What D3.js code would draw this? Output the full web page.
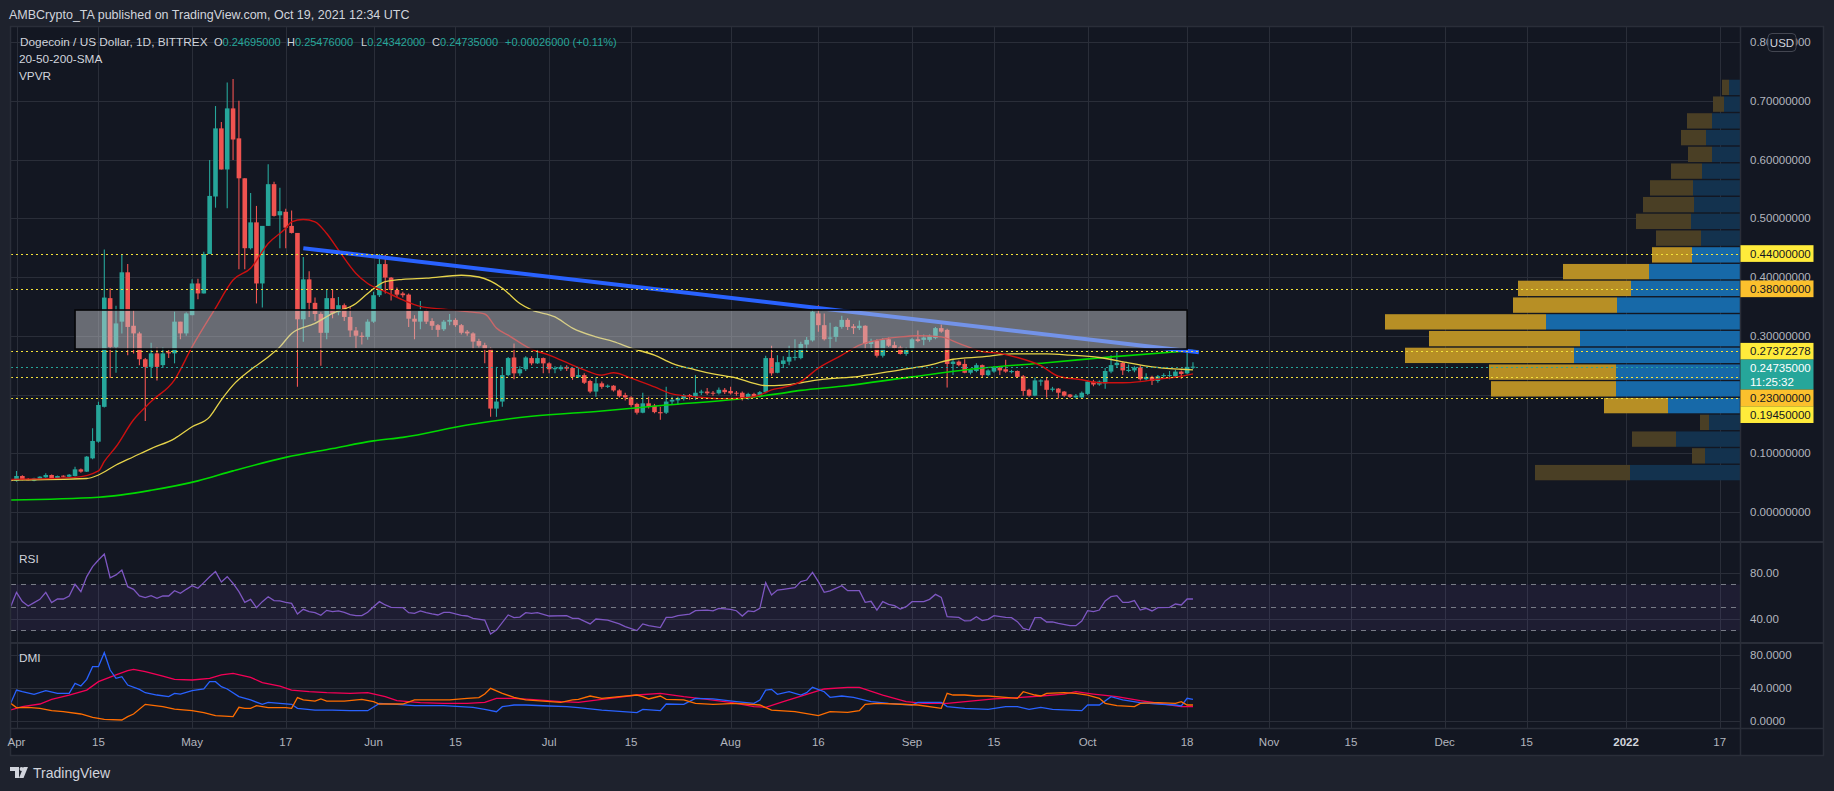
<!DOCTYPE html>
<html><head><meta charset="utf-8">
<script src="https://cdn.jsdelivr.net/npm/d3@7"></script>
<style>
html,body{margin:0;padding:0;background:#1e222d;}
svg{display:block;font-family:"Liberation Sans",Arial,sans-serif;}
</style></head><body>
<svg id="c" width="1834" height="791"></svg>
<script>
// ---------------- DATA ----------------
const candleStart = "2021-03-31";           // first daily candle
// daily candles [open, high, low, close]
const candles = [
[.0545,.0556,.0510,.0530],[.0530,.0698,.0516,.0613],[.0613,.0625,.0540,.0545],[.0557,.0580,.0540,.0545],
[.0533,.0585,.0525,.0573],[.0556,.0610,.0550,.0601],[.0590,.0658,.0585,.0630],[.0630,.0640,.0555,.0562],
[.0573,.0620,.0565,.0613],[.0618,.0625,.0590,.0601],[.0601,.0645,.0595,.0635],[.0613,.0772,.0605,.0726],
[.0726,.0740,.0670,.0687],[.0687,.0953,.0680,.0942],[.0913,.1424,.0900,.1209],[.1197,.1878,.1180,.1821],
[.179,.447,.178,.365],[.364,.381,.228,.281],[.281,.351,.237,.321],[.324,.439,.304,.408],
[.408,.422,.267,.315],[.317,.344,.270,.304],[.304,.307,.250,.260],[.260,.262,.155,.247],
[.247,.288,.228,.270],[.270,.280,.224,.247],[.250,.280,.245,.270],[.272,.276,.262,.270],
[.270,.341,.253,.324],[.324,.324,.294,.304],[.304,.340,.300,.338],[.335,.396,.335,.389],
[.389,.397,.362,.372],[.372,.443,.372,.439],[.439,.599,.439,.538],[.537,.691,.518,.653],
[.653,.664,.583,.583],[.583,.731,.517,.687],[.687,.737,.599,.634],[.636,.700,.413,.568],
[.568,.568,.413,.449],[.449,.543,.447,.493],[.493,.521,.355,.389],[.389,.487,.348,.487],
[.487,.592,.487,.558],[.558,.562,.503,.504],[.505,.552,.449,.512],[.511,.516,.449,.484],
[.487,.513,.474,.475],[.475,.475,.213,.328],[.328,.434,.290,.396],[.396,.410,.332,.356],
[.356,.365,.325,.337],[.337,.340,.249,.305],[.305,.379,.294,.364],[.364,.379,.330,.338],
[.340,.366,.335,.352],[.352,.355,.325,.332],[.332,.349,.298,.309],[.309,.315,.279,.300],
[.300,.306,.285,.298],[.298,.328,.293,.324],[.324,.375,.322,.369],[.369,.439,.366,.422],
[.422,.438,.372,.399],[.399,.400,.360,.378],[.378,.382,.365,.370],[.372,.375,.365,.369],
[.370,.372,.315,.329],[.329,.335,.294,.324],[.324,.359,.311,.342],[.342,.345,.320,.324],
[.325,.330,.310,.317],[.318,.320,.298,.310],[.311,.327,.308,.324],[.324,.337,.318,.327],
[.327,.330,.315,.318],[.318,.320,.302,.305],[.307,.310,.300,.304],[.304,.306,.277,.290],
[.291,.295,.280,.283],[.284,.288,.253,.277],[.278,.280,.162,.176],[.176,.247,.162,.188],
[.188,.247,.179,.233],[.233,.264,.231,.262],[.263,.287,.226,.236],[.236,.248,.232,.243],
[.243,.265,.240,.263],[.262,.265,.250,.253],[.253,.276,.252,.262],[.262,.263,.236,.253],
[.253,.255,.236,.243],[.243,.248,.236,.245],[.243,.250,.240,.247],[.247,.250,.240,.244],
[.245,.247,.225,.230],[.230,.245,.228,.233],[.233,.236,.218,.220],[.223,.225,.202,.205],
[.205,.229,.196,.219],[.219,.222,.210,.213],[.213,.217,.211,.215],[.215,.216,.205,.207],
[.207,.209,.195,.197],[.199,.203,.190,.195],[.195,.197,.179,.182],[.184,.186,.166,.169],
[.169,.203,.168,.185],[.185,.196,.176,.179],[.181,.184,.168,.170],[.170,.179,.157,.168],
[.169,.213,.167,.188],[.188,.196,.182,.191],[.190,.196,.182,.194],[.193,.201,.190,.199],
[.199,.201,.191,.197],[.197,.233,.191,.203],[.203,.208,.199,.205],[.205,.211,.199,.202],
[.203,.206,.198,.202],[.202,.212,.200,.208],[.208,.211,.201,.204],[.206,.213,.200,.202],
[.203,.206,.198,.202],[.203,.205,.190,.193],[.193,.203,.191,.201],[.201,.203,.194,.196],
[.197,.206,.195,.204],[.204,.266,.202,.262],[.262,.283,.232,.236],[.237,.267,.236,.255],
[.252,.265,.245,.258],[.256,.283,.250,.264],[.264,.294,.258,.264],[.262,.290,.260,.286],
[.285,.298,.274,.293],[.292,.350,.290,.341],[.338,.352,.307,.318],[.318,.338,.292,.294],
[.295,.322,.279,.297],[.298,.316,.290,.315],[.315,.334,.312,.327],[.327,.330,.310,.315],
[.316,.320,.303,.313],[.313,.326,.310,.317],[.317,.318,.276,.286],[.286,.295,.276,.291],
[.291,.294,.263,.266],[.266,.296,.263,.293],[.294,.297,.281,.283],[.284,.290,.276,.279],
[.280,.283,.268,.269],[.269,.280,.266,.277],[.277,.296,.275,.294],[.294,.309,.289,.291],
[.293,.302,.284,.297],[.293,.302,.290,.300],[.296,.315,.294,.313],[.313,.319,.305,.307],
[.310,.312,.212,.252],[.252,.259,.233,.256],[.256,.258,.248,.250],[.252,.260,.236,.237],
[.237,.244,.234,.242],[.240,.253,.238,.250],[.250,.251,.228,.233],[.233,.243,.231,.241],
[.239,.248,.237,.246],[.246,.248,.233,.241],[.243,.259,.237,.239],[.238,.242,.236,.240],
[.240,.241,.228,.230],[.231,.233,.198,.206],[.208,.210,.196,.198],[.198,.229,.197,.224],
[.222,.226,.215,.224],[.224,.228,.195,.208],[.208,.213,.205,.210],[.210,.211,.193,.203],
[.205,.206,.196,.198],[.200,.201,.194,.196],[.195,.201,.193,.198],[.195,.205,.193,.203],
[.201,.224,.199,.222],[.222,.225,.214,.217],[.217,.224,.215,.222],[.219,.245,.210,.240],
[.239,.267,.236,.250],[.250,.272,.247,.254],[.254,.256,.233,.241],[.240,.251,.238,.242],
[.241,.248,.238,.246],[.246,.250,.224,.226],[.226,.236,.224,.230],[.230,.232,.216,.223],
[.223,.233,.220,.231],[.232,.236,.229,.233],[.233,.240,.226,.233],[.231,.242,.229,.239],
[.239,.241,.227,.235],[.236,.273,.234,.247],[.24695,.25476,.24342,.24735]
];

// indicator series: [day offset from 2021-04-01, value]
const indexStart = "2021-04-01";
const sma20 = [[-1,.0556],[10,.059],[14,.070],[15,.086],[17,.111],[20,.157],[23,.188],[27,.225],[30,.281],[34,.347],[37,.395],[40,.415],[43,.457],[46,.483],[47,.494],[49,.498],[51,.494],[53,.474],[55,.446],[58,.406],[60,.389],[63,.375],[66,.361],[69,.350],[73,.345],[77,.341],[80,.337],[82,.313],[84,.301],[88,.277],[91,.267],[95,.250],[97,.242],[100,.233],[102,.237],[105,.228],[109,.213],[112,.201],[116,.196],[120,.193],[125,.195],[127,.199],[129,.208],[131,.212],[134,.222],[137,.245],[141,.267],[144,.284],[148,.294],[151,.298],[154,.300],[158,.298],[161,.287],[165,.273],[168,.270],[171,.263],[175,.249],[178,.231],[182,.225],[185,.220],[189,.220],[192,.222],[195,.226],[199,.231],[201,.235]];
const sma50 = [[-1,.0545],[12,.057],[14,.063],[17,.080],[20,.094],[23,.108],[27,.125],[30,.145],[33,.162],[35,.191],[37,.216],[40,.242],[43,.264],[45,.281],[47,.304],[51,.321],[54,.338],[58,.355],[60,.372],[63,.392],[66,.396],[70,.398],[76,.403],[79,.400],[83,.381],[86,.355],[88,.344],[92,.332],[95,.313],[99,.298],[102,.290],[105,.279],[109,.267],[112,.253],[116,.242],[119,.235],[123,.228],[126,.219],[128,.215],[131,.216],[134,.220],[137,.225],[144,.231],[151,.242],[156,.250],[160,.260],[165,.264],[170,.269],[176,.269],[180,.267],[185,.263],[190,.254],[194,.247],[199,.243],[201,.242]];
const sma200 = [[-1,.0204],[14,.025],[23,.037],[31,.053],[37,.070],[46,.093],[54,.108],[61,.121],[66,.127],[77,.148],[88,.163],[100,.172],[111,.182],[123,.192],[130,.201],[134,.207],[141,.214],[153,.230],[165,.245],[176,.254],[187,.264],[201,.275]];

const rsi = [[-1,50.7],[0,63.2],[1,55.1],[2,51.3],[3,54.2],[4,57.1],[5,63.2],[6,54.2],[7,57.4],[8,57.4],[9,60],[10,70.2],[11,63.8],[12,76.9],[13,85.6],[14,91.3],[15,96.5],[16,75.9],[17,78.3],[18,82.6],[19,68.1],[20,65.8],[21,60],[22,58.6],[23,60.3],[24,58],[25,60],[26,60],[27,64.6],[28,62.3],[29,65.8],[30,68.9],[31,66.7],[32,71.6],[33,76.8],[34,81.2],[35,72.2],[36,76.8],[37,71],[38,63.8],[39,54.5],[40,57.1],[41,49.9],[42,55.1],[43,59.4],[44,56],[45,55.7],[46,54.5],[47,53.6],[48,44.4],[49,48.4],[50,46.4],[51,45.5],[52,43.2],[53,47.5],[54,46.4],[55,47],[56,45.8],[57,43.8],[58,42.9],[59,42.9],[60,45.8],[61,50.7],[62,55.1],[63,52.2],[64,50.1],[66,49.9],[67,45.5],[68,44.9],[69,47],[70,45.5],[71,44.4],[72,43.5],[73,45.8],[74,45.8],[75,44.4],[76,43.2],[77,42.6],[78,40.6],[80,39.1],[81,27],[82,30.4],[84,43.5],[85,41.2],[86,41.7],[87,45.5],[88,44.9],[89,45.5],[91,42.6],[94,42.9],[95,40.6],[96,40.6],[98,35.7],[99,40],[101,39.1],[103,35.7],[104,33.4],[106,29.9],[107,35.7],[108,34.2],[110,32.5],[111,41.4],[112,41.4],[113,42.9],[115,44.3],[116,47.2],[118,47.8],[119,47],[120,49.3],[122,48.4],[123,47.2],[124,42.6],[125,47],[126,46.4],[127,49.3],[128,71.6],[129,60.9],[130,65.2],[131,65.8],[133,67.2],[134,72.5],[135,73.9],[136,80.6],[137,72.5],[138,63.2],[139,64.4],[141,69],[142,64.6],[144,64.6],[145,54.5],[146,55.4],[147,47.8],[148,55.1],[149,52.8],[150,51.6],[151,48.7],[152,50.7],[153,55.1],[155,55.1],[156,57.1],[157,61.4],[158,58.8],[159,42],[161,41.4],[162,38.3],[163,38.6],[164,42],[165,38.6],[166,39.7],[167,42.9],[169,41.4],[170,41.2],[171,37.7],[172,31.9],[173,30.4],[174,41.2],[175,41.2],[176,37.4],[177,37.4],[178,36.2],[180,34.2],[181,34.2],[182,38.3],[183,47.2],[184,46.4],[185,47.8],[186,55.7],[187,59.4],[188,60.3],[189,54.5],[190,54.5],[191,56],[192,47.8],[193,49.3],[194,47],[195,49.9],[197,50.1],[198,53],[199,52.2],[200,57.4],[201,57.4]];

const plusDI = [[-1,21.4],[0,37.5],[1,35.5],[3,32.3],[5,36.7],[7,33.5],[9,33.5],[10,45.6],[11,42.4],[12,50.5],[13,65.9],[14,65.9],[15,82.8],[16,61.8],[17,51.7],[18,53.7],[19,43.6],[21,38.4],[22,34.3],[24,31.5],[26,29.5],[27,33.5],[28,32.7],[30,36.7],[32,38.8],[33,47.7],[34,47.7],[35,41.6],[36,38.8],[38,29.5],[40,25.5],[42,20.2],[43,22.6],[45,21.4],[47,20.2],[48,15.4],[51,13.3],[54,13.3],[57,12.5],[60,12.5],[62,21.4],[65,20.2],[68,18.6],[73,18.6],[78,16.6],[80,14.1],[82,11.3],[83,17.4],[85,19.4],[87,19.4],[91,18.2],[94,17.4],[96,16.2],[100,13.3],[106,10.1],[107,14.1],[110,12.5],[111,20.6],[114,20.2],[116,27.5],[119,26.7],[123,23.4],[126,21.4],[127,25.5],[128,37.5],[129,38.4],[130,32.3],[132,35.5],[134,31.5],[135,34.3],[136,40.8],[138,35.5],[139,28.7],[141,30.3],[143,28.7],[146,23.4],[149,21.4],[153,19.4],[154,22.6],[158,22.6],[159,17.4],[162,15.4],[166,14.1],[169,17.4],[171,17.4],[173,14.1],[175,16.6],[177,14.1],[182,12.5],[183,19.4],[185,19.4],[187,29.5],[189,25.5],[192,22.2],[195,20.6],[198,19.4],[199,18.2],[200,27.5],[201,26.3]];
const minusDI = [[-1,21.4],[0,16.2],[2,16.6],[4,15.4],[6,12.5],[8,11.3],[11,8.5],[13,4.4],[15,2],[18,1.2],[19,5.3],[20,8.5],[22,20.2],[25,17.4],[27,14.5],[30,12.5],[32,10.1],[34,6.5],[37,5.3],[38,16.6],[39,15.4],[40,15.4],[41,18.6],[43,16.2],[46,16.2],[47,15.4],[48,28.3],[49,25.5],[51,24.2],[52,26.7],[53,24.2],[56,24.2],[59,26.3],[61,23.4],[62,20.6],[66,20.6],[68,25.5],[71,25.5],[74,25.5],[77,27.5],[79,28.3],[80,32.7],[81,39.6],[83,33.5],[85,28.7],[87,25.5],[90,24.2],[93,22.6],[95,25.5],[96,26.3],[98,30.3],[100,27.5],[103,29.5],[106,31.5],[107,29.5],[108,26.7],[110,30.3],[111,26.3],[114,25.5],[116,21.4],[119,20.2],[123,21.4],[127,19.4],[129,13.3],[133,11.3],[137,6.5],[139,11.3],[142,10.5],[144,12.5],[145,20.2],[147,21.4],[150,20.6],[154,19.4],[158,15.4],[159,33.5],[160,31.5],[162,31.5],[164,30.3],[166,30.3],[169,28.7],[171,27.5],[172,35.5],[174,31.5],[175,30.3],[176,33.5],[179,34.3],[181,33.5],[183,31.5],[185,27.5],[186,21.4],[188,18.6],[191,17.4],[192,21.4],[195,22.2],[198,21.4],[199,23.4],[200,19.4],[201,19.4]];
const adx = [[-1,13.3],[1,17.4],[4,20.6],[6,26.3],[9,31.5],[12,37.5],[14,47.7],[17,55.8],[19,61],[20,62.6],[22,59.8],[25,54.5],[27,50.5],[30,49.7],[33,51.7],[35,55.8],[37,57.8],[40,52.9],[42,46.5],[45,42.4],[47,37.5],[50,35.5],[53,34.3],[57,33.5],[60,34.3],[63,29.5],[65,24.6],[69,22.2],[73,21.4],[77,21.4],[80,22.6],[82,27.5],[85,27.5],[89,25.5],[93,23.4],[96,22.6],[100,26.3],[106,31.5],[110,33.5],[114,29.5],[118,26.3],[122,22.6],[126,17.4],[128,16.6],[131,23.4],[135,32.3],[138,38.8],[142,40.8],[144,40.8],[148,31.5],[152,23.4],[155,21.4],[159,21.4],[163,24.2],[167,26.7],[171,28.3],[175,30.3],[179,32.7],[181,35.5],[184,32.7],[188,29.5],[192,24.6],[196,20.6],[199,17.4],[201,17.4]];

// drawings
const trendLine = [[49,.449],[202,.272]];
const zoneBox = {from:10, to:200, top:.3438, bottom:.2774};
const levels = [
  {v:.44, label:"0.44000000", fill:"#ffeb3b"},
  {v:.38, label:"0.38000000", fill:"#fbc02d"},
  {v:.27372278, label:"0.27372278", fill:"#ffeb3b"},
  {v:.23, label:"0.23000000", fill:"#fbc02d"},
  {v:.1945, label:"0.19450000", fill:"#ffeb3b"}
];
const lastPrice = {v:.24735, label:"0.24735000", timer:"11:25:32"};

// volume profile (top row -> bottom row)
const vpvrRange = [0.0528, 0.737];
const vpvrDown = [7,11,25,25,24,31,43,51,55,45,40,86,113,104,161,151,169,127,125,64,9,44,13,95];
const vpvrUp   = [11,16,28,34,28,38,47,46,49,39,48,91,109,123,194,160,166,124,124,72,31,64,35,110];
const vpvrValueArea = [0,0,0,0,0,0,0,0,0,0,1,1,1,1,1,1,1,1,1,1,0,0,0,0];

// axes
const priceTicks = [0,.1,.2,.3,.4,.5,.6,.7,.8];
const rsiTicks = [80,40];
const dmiTicks = [80,40,0];
const timeTicks = [["2021-04-01","Apr"],["2021-04-15","15"],["2021-05-01","May"],["2021-05-17","17"],["2021-06-01","Jun"],["2021-06-15","15"],["2021-07-01","Jul"],["2021-07-15","15"],["2021-08-01","Aug"],["2021-08-16","16"],["2021-09-01","Sep"],["2021-09-15","15"],["2021-10-01","Oct"],["2021-10-18","18"],["2021-11-01","Nov"],["2021-11-15","15"],["2021-12-01","Dec"],["2021-12-15","15"],["2022-01-01","2022"],["2022-01-17","17"]];

// ---------------- DRAW ----------------
const svg = d3.select("#c");
const L = 11, R = 1740, AX = 1823;
const main = {t:27, b:541}, rsiP = {t:543, b:643}, dmiP = {t:643, b:728}, axisB = 755;
const BG = "#131722", GRID = "#2a2e39", TXT = "#b2b5be";
const parse = d3.utcParse("%Y-%m-%d");
const x = d3.scaleUtc().domain([parse("2021-04-01"), parse("2022-01-01")]).range([16.5, 1626.1]);
const yP = d3.scaleLinear().domain([0, 0.8]).range([512, 42]);
const yR = d3.scaleLinear().domain([40, 80]).range([619, 573]);
const yD = d3.scaleLinear().domain([0, 80]).range([721, 655]);
const base = parse(indexStart);
const dx = d => x(d3.utcDay.offset(base, d));

svg.append("rect").attr("width",1834).attr("height",791).attr("fill","#1e222d");
svg.append("rect").attr("x",L).attr("y",main.t).attr("width",AX-L).attr("height",axisB-main.t).attr("fill",BG);

const defs = svg.append("defs");
[["cm",main],["cr",rsiP],["cd",dmiP]].forEach(([id,p])=>{
  defs.append("clipPath").attr("id",id).append("rect").attr("x",L).attr("y",p.t).attr("width",R-L).attr("height",p.b-p.t);
});

// vertical grid
const g = svg.append("g");
timeTicks.forEach(([d])=>{
  const xx = Math.round(x(parse(d)))+0.5;
  g.append("line").attr("x1",xx).attr("x2",xx).attr("y1",main.t).attr("y2",dmiP.b).attr("stroke",GRID).attr("stroke-width",1);
});
// horizontal grid
priceTicks.forEach(v=>{ const yy=Math.round(yP(v))+0.5; g.append("line").attr("x1",L).attr("x2",R).attr("y1",yy).attr("y2",yy).attr("stroke",GRID);});
rsiTicks.forEach(v=>{ const yy=Math.round(yR(v))+0.5; g.append("line").attr("x1",L).attr("x2",R).attr("y1",yy).attr("y2",yy).attr("stroke",GRID);});
dmiTicks.forEach(v=>{ const yy=Math.round(yD(v))+0.5; g.append("line").attr("x1",L).attr("x2",R).attr("y1",yy).attr("y2",yy).attr("stroke",GRID);});

// ---- main pane
const gm = svg.append("g").attr("clip-path","url(#cm)");

// VPVR
const nRows = vpvrUp.length;
const rowY = d3.scaleLinear().domain([0, nRows]).range([yP(vpvrRange[1]), yP(vpvrRange[0])]);
const totals = vpvrUp.map((u,i)=>u+vpvrDown[i]);
const vw = d3.scaleLinear().domain([0, d3.max(totals)]).range([0, 355]);
vpvrUp.forEach((u,i)=>{
  const y0 = rowY(i)+0.7, h = rowY(i+1)-rowY(i)-1.4;
  const va = vpvrValueArea[i];
  const wu = vw(u), wd = vw(vpvrDown[i]);
  gm.append("rect").attr("x",R-wu).attr("y",y0).attr("width",wu).attr("height",h).attr("fill",va?"#1769a8":"#13324e");
  gm.append("rect").attr("x",R-wu-wd).attr("y",y0).attr("width",wd).attr("height",h).attr("fill",va?"#b78f25":"#4a3f25");
});

// candles
const cStart = parse(candleStart);
const up = "#26a69a", dn = "#ef5350";
candles.forEach((c,i)=>{
  const [o,h,l,cl] = c;
  const cx = x(d3.utcDay.offset(cStart,i));
  const col = cl>=o ? up : dn;
  gm.append("line").attr("x1",cx).attr("x2",cx).attr("y1",yP(h)).attr("y2",yP(l)).attr("stroke",col).attr("stroke-width",1.1);
  const yt = yP(Math.max(o,cl)), yb = yP(Math.min(o,cl));
  gm.append("rect").attr("x",cx-2.3).attr("y",yt).attr("width",4.6).attr("height",Math.max(1,yb-yt)).attr("fill",col);
});

// SMAs
const lineP = d3.line().x(d=>dx(d[0])).y(d=>yP(d[1])).curve(d3.curveMonotoneX);
gm.append("path").attr("d",lineP(sma200)).attr("fill","none").attr("stroke","#00d900").attr("stroke-width",1.6);
gm.append("path").attr("d",lineP(sma50)).attr("fill","none").attr("stroke","#e6d34a").attr("stroke-width",1.3);
gm.append("path").attr("d",lineP(sma20)).attr("fill","none").attr("stroke","#cc1010").attr("stroke-width",1.4);

// trend line
gm.append("line").attr("x1",dx(trendLine[0][0])).attr("y1",yP(trendLine[0][1]))
  .attr("x2",dx(trendLine[1][0])).attr("y2",yP(trendLine[1][1]))
  .attr("stroke","#2962ff").attr("stroke-width",4).attr("stroke-linecap","butt");

// zone rectangle
gm.append("rect").attr("x",dx(zoneBox.from)).attr("y",yP(zoneBox.top))
  .attr("width",dx(zoneBox.to)-dx(zoneBox.from)).attr("height",yP(zoneBox.bottom)-yP(zoneBox.top))
  .attr("fill","rgba(200,201,207,0.47)").attr("stroke","#050608").attr("stroke-width",1.6);

// level lines
levels.forEach(lv=>{
  const yy = Math.round(yP(lv.v))+0.5;
  gm.append("line").attr("x1",L).attr("x2",R).attr("y1",yy).attr("y2",yy).attr("stroke","#f3e23a").attr("stroke-width",1.2).attr("stroke-dasharray","2,3");
});
{
  const yy = Math.round(yP(lastPrice.v))+0.5;
  gm.append("line").attr("x1",L).attr("x2",R).attr("y1",yy).attr("y2",yy).attr("stroke","#26a69a").attr("stroke-width",1.2).attr("stroke-dasharray","2,3");
}

// ---- RSI pane
const gr = svg.append("g").attr("clip-path","url(#cr)");
gr.append("rect").attr("x",L).attr("y",yR(70)).attr("width",R-L).attr("height",yR(30)-yR(70)).attr("fill","rgba(126,87,194,0.1)");
[70,50,30].forEach(v=>{
  gr.append("line").attr("x1",L).attr("x2",R).attr("y1",yR(v)).attr("y2",yR(v)).attr("stroke","#787b86").attr("stroke-width",1).attr("stroke-dasharray","5,5");
});
const lineR = d3.line().x(d=>dx(d[0])).y(d=>yR(d[1]));
gr.append("path").attr("d",lineR(rsi)).attr("fill","none").attr("stroke","#7e57c2").attr("stroke-width",1.3);

// ---- DMI pane
const gd = svg.append("g").attr("clip-path","url(#cd)");
const lineD = d3.line().x(d=>dx(d[0])).y(d=>yD(d[1]));
gd.append("path").attr("d",lineD(adx)).attr("fill","none").attr("stroke","#f50057").attr("stroke-width",1.3);
gd.append("path").attr("d",lineD(plusDI)).attr("fill","none").attr("stroke","#2962ff").attr("stroke-width",1.3);
gd.append("path").attr("d",lineD(minusDI)).attr("fill","none").attr("stroke","#ff6d00").attr("stroke-width",1.3);

// ---- frame lines
const fr = svg.append("g").attr("stroke","#2a2e39").attr("fill","none");
fr.append("rect").attr("x",L-0.5).attr("y",main.t-0.5).attr("width",AX-L+1).attr("height",axisB-main.t+1).attr("stroke-width",1.5);
fr.append("line").attr("x1",L).attr("x2",AX).attr("y1",542).attr("y2",542).attr("stroke-width",2);
fr.append("line").attr("x1",L).attr("x2",AX).attr("y1",643).attr("y2",643).attr("stroke-width",2);
fr.append("line").attr("x1",L).attr("x2",AX).attr("y1",dmiP.b+0.5).attr("y2",dmiP.b+0.5).attr("stroke-width",1.5);
fr.append("line").attr("x1",R+0.5).attr("x2",R+0.5).attr("y1",main.t).attr("y2",axisB).attr("stroke-width",1.5);

// ---- axis labels
const ax = svg.append("g").attr("font-size","11.5px").attr("fill",TXT);
const fmt8 = d3.format(".8f");
priceTicks.forEach(v=>{
  ax.append("text").attr("x",R+10).attr("y",yP(v)).attr("dy","0.35em").text(fmt8(v));
});
rsiTicks.forEach(v=>ax.append("text").attr("x",R+10).attr("y",yR(v)).attr("dy","0.35em").text(d3.format(".2f")(v)));
dmiTicks.forEach(v=>ax.append("text").attr("x",R+10).attr("y",yD(v)).attr("dy","0.35em").text(d3.format(".4f")(v)));
timeTicks.forEach(([d,t])=>{
  ax.append("text").attr("x",x(parse(d))).attr("y",742).attr("dy","0.35em").attr("text-anchor","middle")
    .attr("font-weight", t==="2022"?"bold":null).attr("fill", t==="2022"?"#d1d4dc":TXT).text(t);
});
// USD badge
ax.append("rect").attr("x",1768).attr("y",33.5).attr("width",28).attr("height",18).attr("rx",4).attr("fill",BG).attr("stroke","#434651");
ax.append("text").attr("x",1782).attr("y",42.5).attr("dy","0.35em").attr("text-anchor","middle").attr("fill","#d1d4dc").text("USD");

// price labels (stacked)
const boxes = levels.map(l=>({y:yP(l.v), h:16.7, fill:l.fill, lines:[l.label], color:"#131722"}));
boxes.push({y:yP(lastPrice.v), h:30, fill:"#26a69a", lines:[lastPrice.label,lastPrice.timer], color:"#ffffff"});
boxes.sort((a,b)=>a.y-b.y);
let prevB = -1e9;
boxes.forEach(b=>{
  let top = Math.max(b.y-8.3, prevB);
  prevB = top + b.h;
  ax.append("rect").attr("x",R+0.5).attr("y",top).attr("width",73).attr("height",b.h).attr("fill",b.fill);
  b.lines.forEach((t,k)=>{
    ax.append("text").attr("x",R+10).attr("y",top+8.4+k*14).attr("dy","0.35em").attr("fill",b.color).text(t);
  });
});

// ---- header / legend
svg.append("text").attr("x",9).attr("y",15).attr("dy","0.35em").attr("font-size","12.5px").attr("fill","#d1d4dc")
  .text("AMBCrypto_TA published on TradingView.com, Oct 19, 2021 12:34 UTC");
const lg = svg.append("g").attr("font-size","11.8px");
lg.append("text").attr("x",20).attr("y",42).attr("dy","0.35em").attr("fill","#d1d4dc").text("Dogecoin / US Dollar, 1D, BITTREX");
[["O","0.24695000",214],["H","0.25476000",287],["L","0.24342000",361],["C","0.24735000",432]].forEach(([k,v,xx])=>{
  const t = lg.append("text").attr("x",xx).attr("y",42).attr("dy","0.35em").attr("font-size","11px");
  t.append("tspan").attr("fill","#d1d4dc").text(k);
  t.append("tspan").attr("fill","#26a69a").text(v);
});
lg.append("text").attr("x",505).attr("y",42).attr("dy","0.35em").attr("font-size","11px").attr("fill","#26a69a").text("+0.00026000 (+0.11%)");
lg.append("text").attr("x",19).attr("y",59).attr("dy","0.35em").attr("fill","#d1d4dc").text("20-50-200-SMA");
lg.append("text").attr("x",19).attr("y",76).attr("dy","0.35em").attr("fill","#d1d4dc").text("VPVR");
lg.append("text").attr("x",19).attr("y",559).attr("dy","0.35em").attr("fill","#d1d4dc").text("RSI");
lg.append("text").attr("x",19).attr("y",658).attr("dy","0.35em").attr("fill","#d1d4dc").text("DMI");

// footer logo
const ft = svg.append("g").attr("fill","#d1d4dc");
ft.append("path").attr("d","M10 767 h9 v11 h-4 v-7 h-5 z");
ft.append("circle").attr("cx",21.5).attr("cy",769).attr("r",1.9);
ft.append("path").attr("d","M23.5 767 h4.5 l-4.5 11 h-4.5 z");
ft.append("text").attr("x",33).attr("y",773).attr("dy","0.35em").attr("font-size","14px").text("TradingView");
</script>
</body></html>
